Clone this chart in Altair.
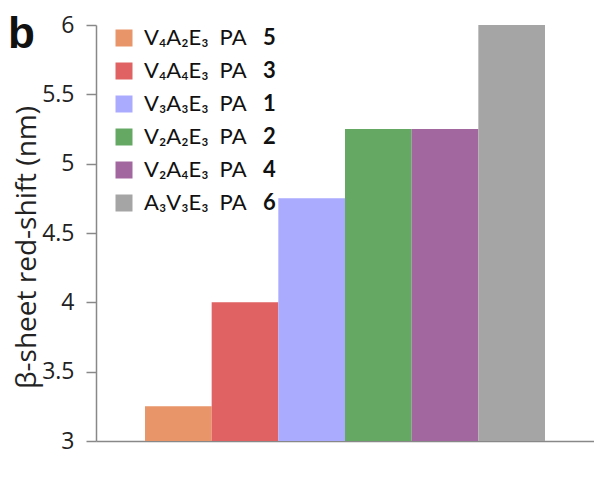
import altair as alt
import pandas as pd

series = ["V₄A₂E₃\u2002PA", "V₄A₄E₃\u2002PA ", "V₃A₃E₃\u2002PA", "V₂A₂E₃\u2002PA", "V₂A₄E₃\u2002PA", "A₃V₃E₃\u2002PA"]
numbers = ["5", "3", "1", "2", "4", "6"]
values = [3.25, 4.0, 4.75, 5.25, 5.25, 6.0]
colors = ["#E8956A", "#E06262", "#AAAAFF", "#64A864", "#A2679F", "#A5A5A5"]
y_ticks = [3, 3.5, 4, 4.5, 5, 5.5, 6]

df = pd.DataFrame({"series": series, "num": numbers, "value": values})

bars = alt.Chart(df).mark_bar(clip=True).encode(
    x=alt.X("series:N", sort=series,
            scale=alt.Scale(paddingInner=0, paddingOuter=0.735),
            axis=alt.Axis(labels=False, ticks=False, title=None, grid=False,
                          domainColor="#888888", domainWidth=1.5)),
    y=alt.Y("value:Q", scale=alt.Scale(domain=[3, 6], zero=False, nice=False),
            axis=alt.Axis(values=y_ticks, format="~g", grid=False,
                          title="β-sheet red-shift (nm)",
                          titleFont="Open Sans", titleFontSize=28, titleFontWeight="normal",
                          titleColor="#222222", titleBaseline="middle",
                          titleX=-69, titleY=222,
                          labelFont="Open Sans", labelFontSize=23, labelColor="#222222",
                          labelPadding=12, tickSize=10, tickColor="#888888",
                          domainColor="#888888", domainWidth=1.5, tickWidth=1.5)),
    color=alt.Color("series:N", scale=alt.Scale(domain=series, range=colors),
                    legend=alt.Legend(title=None, orient="none", legendX=17, legendY=2,
                                      symbolType="square", symbolSize=289,
                                      symbolStrokeWidth=0, labelFont="Lato",
                                      labelFontSize=22, labelColor="#111111",
                                      labelOffset=9, rowPadding=11, padding=0)),
    strokeDash=alt.StrokeDash("num:N", scale=alt.Scale(domain=numbers),
                              legend=alt.Legend(title=None, orient="none", legendX=145, legendY=2,
                                                symbolSize=1, symbolOpacity=0,
                                                symbolStrokeWidth=0,
                                                labelFont="Lato", labelFontSize=22,
                                                labelFontWeight="bold", labelColor="#111111",
                                                labelOffset=0, rowPadding=11, padding=0)),
)

label = alt.Chart(pd.DataFrame({"t": ["b"]})).mark_text(
    align="left", baseline="alphabetic", fontSize=44, fontWeight="bold",
    font="Liberation Sans", color="#111111"
).encode(text="t:N", x=alt.value(-88), y=alt.value(23))

chart = alt.layer(bars, label).properties(
    width=498, height=416,
    autosize=alt.AutoSizeParams(type="none"),
    padding={"left": 88, "top": 17, "right": 0, "bottom": 30},
).configure_view(stroke=None)

chart.save("out.html", embed_options={"renderer": "svg", "actions": False})
